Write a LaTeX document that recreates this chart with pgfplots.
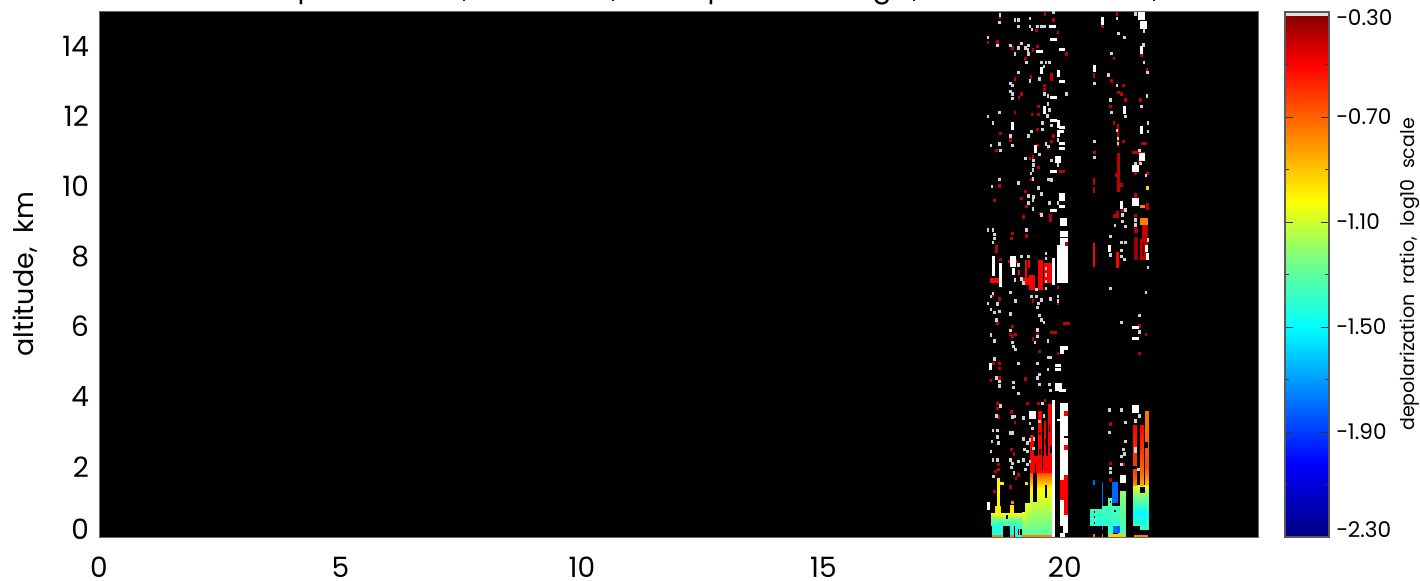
\documentclass[border=0pt]{standalone}
\usepackage{fontspec}
\setmainfont{Poppins}
\usepackage{pgfplots}
\pgfplotsset{compat=1.18}

\pgfplotsset{colormap={depol}{rgb255(0)=(0,0,128) rgb255(14)=(0,0,255) rgb255(40)=(0,255,255)
  rgb255(52)=(110,255,140) rgb255(64)=(255,255,0) rgb255(90)=(255,0,0) rgb255(100)=(128,0,0)}}

% speckle marks, the size of one or a few range gates
\pgfdeclareplotmark{cell}{\pgfpathrectangle{\pgfqpoint{-0.68pt}{-0.85pt}}{\pgfqpoint{1.36pt}{1.7pt}}\pgfusepathqfill}
\pgfdeclareplotmark{wide}{\pgfpathrectangle{\pgfqpoint{-1.7pt}{-0.75pt}}{\pgfqpoint{3.4pt}{1.5pt}}\pgfusepathqfill}
\pgfdeclareplotmark{tall}{\pgfpathrectangle{\pgfqpoint{-0.75pt}{-1.9pt}}{\pgfqpoint{1.5pt}{3.8pt}}\pgfusepathqfill}
\pgfdeclareplotmark{big}{\pgfpathrectangle{\pgfqpoint{-1.6pt}{-1.9pt}}{\pgfqpoint{3.2pt}{3.8pt}}\pgfusepathqfill}

\definecolor{spw}{gray}{0.82}
\definecolor{spr}{RGB}{190,0,0}
\definecolor{lowblue}{RGB}{0,100,255}

% #1 colour, x1 x2 y1 y2
\newcommand{\rect}[5]{\addplot[fill=#1,draw=none] coordinates {(#2,#4)(#3,#4)(#3,#5)(#2,#5)} --cycle;}
% x1 x2, y1 with value, y2 with value
\newcommand{\grad}[6]{\addplot[surf,shader=interp,mesh/rows=2,mesh/cols=2,point meta=explicit]
  coordinates {(#1,#3)[#4](#2,#3)[#4](#1,#5)[#6](#2,#5)[#6]};}

\begin{document}
\begin{tikzpicture}
\useasboundingbox (-49.5pt,-22pt) rectangle (660.5pt,268.5pt);

\begin{axis}[
  at={(0pt,0pt)}, anchor=south west,
  scale only axis, width=579.5pt, height=263pt,
  xmin=0, xmax=24, ymin=0, ymax=15,
  xtick={0,5,10,15,20}, ytick={0,2,...,14},
  yticklabels={\raisebox{8pt}{0},2,4,6,8,10,12,14},
  major tick length=0pt, minor tick length=0pt,
  tick style={draw=none},
  /pgf/number format/assume math mode=true,
  tick label style={font=\fontsize{14}{16}\selectfont},
  xticklabel style={inner ysep=0pt,text height=10pt,text depth=0pt,yshift=-10pt},
  yticklabel style={xshift=-1.5pt},
  ylabel={altitude,\ \ km},
  every axis y label/.style={at={(axis description cs:-0.064,0.5)},rotate=90,anchor=center,font=\fontsize{13.5}{15}\selectfont},
  axis background/.style={fill=black},
  axis line style={black!60},
  colormap name=depol, point meta min=-2.3, point meta max=-0.3,
  axis on top,
]
% cluster 1, body
\grad{19.28}{19.77}{1.40}{-1.0}{1.85}{-0.65}
\grad{19.28}{19.77}{0.80}{-1.15}{1.40}{-1.0}
\grad{19.28}{19.77}{0}{-1.32}{0.80}{-1.15}
\grad{19.18}{19.28}{0}{-1.32}{0.96}{-1.05}
\grad{19.11}{19.18}{0}{-1.35}{0.72}{-1.05}
\grad{18.47}{19.11}{0.50}{-1.25}{0.68}{-1.0}
\grad{18.47}{19.11}{0.32}{-1.42}{0.50}{-1.25}
\grad{18.49}{18.70}{0}{-1.45}{0.32}{-1.42}
\grad{18.87}{18.94}{0}{-1.45}{0.32}{-1.42}
\grad{18.97}{19.11}{0}{-1.45}{0.32}{-1.42}
\grad{18.87}{18.94}{0.68}{-1.0}{0.90}{-0.95}
\grad{18.56}{18.66}{0.68}{-1.0}{0.87}{-0.95}
\grad{18.59}{18.64}{0.82}{-1.05}{1.68}{-1.0}
\grad{18.64}{18.73}{1.49}{-1.0}{1.58}{-1.0}
\rect{black}{19.35}{19.42}{1.01}{1.86}
\rect{black}{19.59}{19.64}{1.11}{1.49}
\rect{black}{18.78}{18.82}{0.52}{0.62}
\rect{black}{19.02}{19.05}{0.05}{0.22}
\rect{black}{19.08}{19.11}{0.05}{0.22}
\rect{orange}{18.49}{18.70}{0}{0.07}
\rect{orange}{18.87}{18.94}{0}{0.07}
\rect{orange}{19.11}{19.77}{0}{0.07}
% red above it
\rect{red}{19.36}{19.73}{1.82}{2.30}
\rect{red}{19.28}{19.36}{1.82}{2.90}
\rect{red}{19.45}{19.52}{2.30}{3.60}
\rect{red}{19.56}{19.62}{2.30}{3.30}
\rect{red}{19.66}{19.73}{2.30}{3.80}
\rect{black}{19.38}{19.41}{1.82}{2.10}
\rect{black}{19.53}{19.55}{1.90}{2.40}
\rect{black}{19.70}{19.73}{2.40}{2.60}
\rect{black}{19.47}{19.50}{2.90}{3.00}
\rect{black}{19.47}{19.50}{2.35}{2.50}
\rect{black}{19.58}{19.60}{2.65}{2.80}
\rect{black}{19.68}{19.70}{3.00}{3.20}
\rect{black}{19.30}{19.33}{2.45}{2.55}
% white columns
\rect{white}{19.73}{19.80}{0}{3.91}
\rect{white}{19.90}{20.06}{0}{3.83}
\rect{red}{19.99}{20.06}{3.44}{3.58}
\rect{red}{19.99}{20.06}{2.49}{2.63}
\rect{red}{19.99}{20.06}{1.63}{1.77}
\rect{red}{19.90}{20.06}{1.06}{1.63}
\rect{red}{19.99}{20.06}{0.63}{1.06}
\rect{black}{19.99}{20.06}{2.82}{2.88}
\rect{black}{19.90}{19.97}{0.10}{0.30}
\rect{black}{20.00}{20.06}{0}{0.10}
\rect{white}{19.83}{19.90}{3.30}{3.36}
% cluster 2
\grad{20.52}{20.77}{0.32}{-1.42}{0.79}{-1.38}
\grad{20.77}{20.90}{0.32}{-1.42}{0.89}{-1.35}
\grad{20.90}{21.15}{0}{-1.42}{0.89}{-1.35}
\grad{20.90}{20.97}{0.89}{-1.35}{1.10}{-1.3}
\grad{21.15}{21.25}{0}{-1.38}{1.30}{-1.2}
\rect{lowblue}{20.97}{21.11}{0.96}{1.58}
\rect{lowblue}{20.77}{20.80}{0.89}{1.58}
\rect{lowblue}{20.59}{20.63}{1.49}{1.63}
\rect{lowblue}{20.76}{20.80}{0.20}{0.32}
\rect{lowblue}{21.00}{21.15}{0.12}{0.32}
\rect{black}{21.00}{21.11}{0.07}{0.12}
\rect{black}{20.60}{20.63}{0.68}{0.74}
\rect{black}{20.60}{20.63}{0.53}{0.59}
\rect{black}{20.60}{20.63}{0.37}{0.43}
\rect{black}{20.93}{20.96}{0.98}{1.04}
\rect{black!70!blue}{21.02}{21.05}{0.70}{0.78}
\rect{yellow!65!orange}{20.90}{21.25}{0}{0.08}
\rect{orange}{20.59}{20.63}{0}{0.08}
\rect{orange}{20.76}{20.80}{0}{0.08}
% cluster 3
\grad{21.42}{21.73}{1.15}{-1.25}{1.48}{-1.05}
\grad{21.42}{21.73}{0.67}{-1.5}{1.15}{-1.25}
\grad{21.42}{21.73}{0.34}{-1.4}{0.67}{-1.5}
\grad{21.56}{21.73}{0.20}{-1.4}{0.34}{-1.4}
\rect{black}{21.56}{21.66}{1.26}{1.43}
\grad{21.42}{21.49}{1.48}{-0.8}{1.75}{-0.65}
\grad{21.42}{21.49}{1.75}{-0.65}{3.20}{-0.5}
\grad{21.56}{21.63}{1.48}{-0.85}{1.80}{-0.72}
\grad{21.56}{21.63}{1.80}{-0.72}{3.20}{-0.5}
\grad{21.66}{21.73}{1.48}{-0.9}{2.00}{-0.65}
\grad{21.66}{21.73}{2.00}{-0.65}{3.60}{-0.75}
\rect{orange}{21.44}{21.73}{0}{0.07}
\rect{black}{21.66}{21.73}{2.55}{2.70}
\rect{black}{21.42}{21.49}{1.95}{2.02}
% mid level layer
\rect{white}{19.83}{20.06}{7.23}{8.33}
\rect{white}{19.90}{20.06}{8.33}{8.52}
\rect{white}{19.90}{20.06}{8.55}{8.74}
\rect{white}{19.90}{20.04}{8.87}{9.09}
\rect{white}{19.90}{20.06}{5.33}{5.45}
\rect{white}{19.90}{19.98}{5.21}{5.33}
\rect{red}{19.18}{19.21}{7.38}{7.90}
\rect{red}{19.25}{19.39}{7.05}{7.47}
\rect{red}{19.45}{19.54}{7.05}{7.90}
\rect{red}{19.56}{19.73}{7.23}{7.80}
\rect{red}{18.83}{19.00}{7.80}{7.90}
\rect{red}{19.04}{19.08}{7.47}{7.61}
\rect{red}{19.23}{19.27}{7.66}{7.90}
\rect{red}{18.45}{18.66}{7.23}{7.38}
\rect{red}{19.14}{19.28}{7.19}{7.38}
\rect{white}{18.49}{18.56}{7.43}{8.00}
\rect{white}{18.63}{18.70}{7.14}{7.80}
\rect{white}{18.87}{18.99}{7.71}{8.00}
\rect{white}{18.90}{18.97}{7.47}{7.66}
\rect{white}{19.73}{19.80}{7.19}{7.95}
\rect{red}{20.59}{20.63}{7.71}{8.37}
\rect{red}{21.06}{21.13}{7.66}{8.14}
\rect{spr!80!black}{21.43}{21.51}{7.90}{8.55}
\rect{spr}{21.43}{21.51}{8.66}{8.80}
\rect{spr}{21.59}{21.72}{8.50}{8.90}
\rect{spr}{21.56}{21.72}{7.90}{8.50}
\rect{spr!70!black}{21.60}{21.63}{8.00}{8.40}
\rect{orange}{21.56}{21.73}{8.90}{9.09}
\rect{orange}{21.56}{21.66}{9.38}{9.46}
\rect{spr}{21.07}{21.14}{9.85}{10.94}
\rect{spr}{21.08}{21.13}{11.13}{11.78}
\rect{spr}{20.59}{20.63}{10.04}{10.23}
\rect{spr}{20.59}{20.63}{9.80}{9.99}
\rect{spr}{20.59}{20.63}{13.08}{13.22}

% red speckles
\addplot[only marks,mark=cell,spr] table[row sep=\\] {
18.66 14.82\\ 19.59 14.91\\ 19.77 14.74\\ 19.86 14.38\\ 19.42 14.44\\ 18.61 14.12\\ 18.41 14.10\\ 18.92 13.95\\
19.34 13.89\\ 19.44 13.98\\ 20.03 13.77\\ 19.18 13.65\\ 18.97 13.06\\ 19.30 13.12\\ 19.58 12.87\\ 19.58 12.76\\
19.11 12.63\\ 19.05 12.53\\ 19.45 12.27\\ 18.97 12.10\\ 19.32 12.05\\ 19.45 12.05\\ 18.67 11.51\\ 19.44 11.62\\
19.77 11.44\\ 18.88 11.32\\ 19.72 11.27\\ 19.44 11.16\\ 19.65 11.08\\ 18.58 11.03\\ 19.34 10.84\\ 19.28 10.79\\
19.45 10.54\\ 19.30 10.20\\ 18.65 10.01\\ 19.18 9.85\\ 19.11 9.66\\ 20.78 14.55\\ 21.08 14.91\\ 20.97 13.00\\
21.21 12.87\\ 21.11 12.67\\ 21.18 12.63\\ 21.25 12.46\\ 20.95 12.27\\ 21.23 12.22\\ 21.02 13.65\\ 21.59 13.74\\
21.70 13.33\\ 21.02 11.80\\ 21.21 11.27\\ 20.61 10.96\\ 21.55 10.70\\ 21.47 10.37\\ 21.71 10.37\\ 21.57 12.46\\
21.18 10.04\\ 21.06 10.32\\ 18.54 9.59\\ 19.21 9.42\\ 19.14 9.12\\ 19.49 9.23\\ 18.92 8.66\\ 18.89 8.52\\
19.21 8.58\\ 18.51 8.39\\ 20.03 8.35\\ 18.67 7.92\\ 19.86 7.12\\ 18.64 6.79\\ 18.51 6.90\\ 19.34 6.73\\
19.86 6.66\\ 18.61 6.08\\ 18.91 6.00\\ 18.88 5.78\\ 18.92 5.71\\ 18.98 5.78\\ 19.44 5.76\\ 19.34 5.65\\
19.48 5.29\\ 19.86 5.24\\ 18.52 4.95\\ 18.65 4.95\\ 18.65 4.81\\ 18.65 4.53\\ 19.18 4.50\\ 21.03 9.15\\
21.20 9.33\\ 21.47 9.16\\ 21.55 6.02\\ 21.68 5.78\\ 21.55 5.24\\ 18.47 4.46\\ 18.61 3.80\\ 18.61 3.67\\
18.89 3.56\\ 18.63 3.42\\ 18.97 3.26\\ 19.23 3.80\\ 19.45 3.80\\ 19.59 3.89\\ 18.90 2.49\\ 18.95 2.37\\
18.63 2.06\\ 18.63 1.92\\ 18.56 1.87\\ 19.04 1.77\\ 18.99 1.66\\ 18.88 1.42\\ 18.54 1.30\\ 20.94 3.22\\
20.94 2.10\\ 20.94 1.63\\ 21.21 2.06\\
};
\addplot[only marks,mark=tall,spr] table[row sep=\\] {
19.72 13.11\\ 18.58 8.21\\ 19.71 9.09\\ 21.72 9.42\\ 21.10 9.20\\ 21.47 9.70\\
};
\addplot[only marks,mark=wide,spr] table[row sep=\\] {
19.94 10.43\\ 21.64 11.21\\ 21.47 10.97\\ 21.59 10.94\\ 20.03 6.08\\ 19.77 5.84\\
};
% white speckles
\addplot[only marks,mark=cell,spw] table[row sep=\\] {
18.66 14.88\\ 18.65 14.67\\ 18.97 14.74\\ 19.04 14.74\\ 19.28 14.79\\ 19.04 14.55\\ 19.28 14.55\\ 19.32 14.48\\
19.44 14.55\\ 19.51 14.55\\ 19.58 14.55\\ 19.77 14.96\\ 18.41 14.25\\ 18.61 14.01\\ 18.87 14.01\\ 19.04 13.95\\
19.11 14.07\\ 19.18 13.95\\ 19.25 14.01\\ 19.24 13.89\\ 19.25 13.77\\ 18.97 13.77\\ 19.21 13.53\\ 19.51 13.53\\
19.61 13.53\\ 19.68 13.53\\ 19.57 13.41\\ 19.04 13.24\\ 19.28 13.00\\ 19.48 13.06\\ 18.88 12.94\\ 18.92 12.87\\
18.88 12.70\\ 18.92 12.63\\ 18.92 12.51\\ 19.58 12.63\\ 19.65 12.57\\ 20.03 12.63\\ 19.65 12.35\\ 19.68 12.18\\
19.64 12.01\\ 18.65 12.10\\ 18.41 11.99\\ 18.51 11.80\\ 19.54 11.80\\ 19.72 11.74\\ 19.54 11.62\\ 19.31 11.56\\
19.25 11.44\\ 18.88 11.44\\ 19.86 11.32\\ 19.61 11.21\\ 19.66 11.13\\ 18.65 11.21\\ 18.47 11.16\\ 18.92 11.16\\
18.67 11.03\\ 19.48 10.91\\ 19.18 10.79\\ 19.35 10.73\\ 19.35 10.61\\ 19.72 10.73\\ 19.86 10.61\\ 19.34 10.47\\
19.30 10.37\\ 19.34 10.21\\ 19.66 10.20\\ 19.72 10.18\\ 18.65 10.20\\ 18.49 9.99\\ 19.04 10.09\\ 19.45 9.95\\
19.51 9.78\\ 19.25 9.72\\ 19.35 9.70\\ 20.61 12.94\\ 20.61 11.27\\ 20.61 10.82\\ 20.90 13.17\\ 20.97 13.79\\
21.08 14.79\\ 21.08 12.87\\ 20.95 12.46\\ 20.97 12.10\\ 21.25 11.99\\ 21.11 14.36\\ 21.23 14.25\\ 21.47 14.91\\
21.64 14.43\\ 21.63 14.03\\ 21.64 13.53\\ 21.71 13.24\\ 21.70 12.57\\ 21.58 12.27\\ 21.72 11.80\\ 21.72 11.56\\
21.55 11.03\\ 21.46 10.65\\ 21.56 10.65\\ 21.68 10.30\\ 21.08 11.60\\ 21.10 11.37\\ 21.10 11.22\\
19.25 9.53\\ 19.34 9.59\\ 19.68 9.53\\ 19.86 9.53\\ 19.34 9.35\\ 19.51 9.18\\ 18.41 8.76\\ 18.51 8.76\\
18.54 8.63\\ 18.54 8.52\\ 18.51 8.39\\ 19.21 8.76\\ 19.11 8.00\\ 19.25 8.00\\ 19.04 7.76\\ 19.61 8.09\\
19.61 7.95\\ 19.61 7.66\\ 19.61 7.47\\ 19.61 7.28\\ 19.11 7.36\\ 19.14 7.24\\ 18.97 7.33\\ 19.41 7.06\\
19.61 7.09\\ 18.88 6.97\\ 18.51 6.95\\ 18.47 6.85\\ 18.61 6.64\\ 18.41 6.66\\ 18.47 6.49\\ 18.54 6.40\\
18.65 6.43\\ 18.58 6.19\\ 18.88 6.36\\ 18.98 6.73\\ 19.31 6.85\\ 19.41 6.85\\ 19.51 6.76\\ 19.45 6.66\\
19.44 6.54\\ 19.71 6.79\\ 19.86 6.85\\ 19.86 6.73\\ 19.48 6.31\\ 19.51 6.19\\ 19.57 6.12\\ 19.44 5.90\\
19.44 5.71\\ 18.88 5.89\\ 18.47 5.76\\ 18.54 5.59\\ 18.91 5.54\\ 18.94 5.43\\ 18.98 5.35\\ 19.38 5.54\\
19.65 5.59\\ 19.65 5.12\\ 19.71 5.12\\ 18.54 5.07\\ 19.04 4.94\\ 19.44 4.94\\ 19.65 4.77\\ 19.48 4.64\\
19.44 4.53\\ 18.58 4.53\\ 21.25 9.33\\ 21.20 9.18\\ 21.47 9.04\\ 21.47 8.90\\ 21.04 8.88\\ 21.20 9.00\\
21.25 8.85\\ 20.94 8.57\\ 20.95 8.04\\ 21.18 8.40\\ 21.25 8.40\\ 21.18 8.17\\ 21.18 8.00\\ 21.23 7.92\\
21.72 8.47\\ 21.72 7.68\\ 20.95 7.09\\ 21.68 6.97\\ 21.55 6.31\\ 21.18 6.12\\ 21.55 5.84\\
18.65 4.43\\ 18.65 4.31\\ 18.94 4.40\\ 18.94 4.27\\ 19.04 4.10\\ 19.47 4.34\\ 19.68 4.34\\ 19.71 4.17\\
18.58 3.45\\ 18.67 3.74\\ 18.92 3.42\\ 18.97 3.44\\ 19.14 3.39\\ 19.54 3.80\\ 19.57 3.45\\ 19.48 3.29\\
19.28 3.24\\ 19.33 3.10\\ 18.51 3.03\\ 18.61 3.03\\ 18.88 2.96\\ 18.92 2.96\\ 18.61 2.85\\ 18.49 2.72\\
18.63 2.68\\ 18.47 2.44\\ 18.51 2.20\\ 18.61 2.20\\ 18.88 2.20\\ 18.92 2.09\\ 18.90 1.99\\ 18.95 1.82\\
19.04 2.15\\ 19.14 2.79\\ 19.16 2.49\\ 19.23 2.68\\ 19.28 2.77\\ 19.36 2.79\\ 19.35 2.53\\ 19.23 2.44\\
19.14 2.20\\ 19.18 1.92\\ 19.23 2.06\\ 19.28 2.15\\ 18.52 1.72\\ 20.92 3.62\\ 21.18 3.62\\ 21.25 3.26\\
20.92 2.98\\ 21.25 2.72\\ 21.21 2.49\\ 21.24 2.37\\ 21.18 2.30\\ 20.94 1.96\\ 20.94 1.84\\ 21.18 2.06\\
21.54 3.45\\ 21.47 3.31\\ 21.47 2.53\\ 21.47 2.44\\ 21.53 1.93\\
};
\addplot[only marks,mark=tall,white] table[row sep=\\] {
19.51 13.30\\ 19.57 12.18\\ 18.92 11.72\\ 19.86 11.78\\ 19.86 11.51\\ 19.39 11.06\\ 20.61 13.36\\ 20.78 14.71\\
21.24 12.18\\ 21.58 13.89\\ 21.58 11.60\\ 18.47 4.86\\ 21.18 9.47\\ 20.92 8.23\\ 21.70 8.23\\ 21.72 8.00\\ 18.41 0.89\\
19.86 13.22\\
};
\addplot[only marks,mark=wide,white] table[row sep=\\] {
19.74 14.55\\ 19.77 14.20\\ 19.48 13.84\\ 19.94 13.89\\ 19.94 13.00\\ 19.77 12.53\\ 19.77 11.87\\ 19.94 11.69\\
19.92 11.57\\ 19.94 11.21\\ 19.94 11.08\\ 19.77 10.43\\ 19.94 9.42\\ 19.77 9.31\\ 19.86 4.89\\ 19.86 4.77\\
19.95 4.17\\ 21.46 5.96\\ 21.46 5.65\\
};
\addplot[only marks,mark=big,white] table[row sep=\\] {
19.86 10.77\\ 19.94 9.69\\ 21.59 14.86\\ 21.63 14.60\\ 21.60 10.84\\ 21.46 10.51\\ 21.46 9.56\\
19.87 4.27\\ 19.33 3.48\\ 21.21 1.65\\ 21.46 3.65\\
};
\addplot[only marks,mark=cell,yellow!80!orange] table[row sep=\\] {
21.71 9.95\\ 19.21 1.53\\
};
\addplot[only marks,mark=cell,orange] table[row sep=\\] {
18.91 0.98\\
};
\end{axis}

\begin{axis}[
  at={(593pt,0pt)}, anchor=south west,
  scale only axis, width=22pt, height=262.5pt,
  xmin=0, xmax=1, ymin=-2.3, ymax=-0.3,
  xtick=\empty,
  ytick={-2.3,-1.9,-1.5,-1.1,-0.7,-0.3},
  minor ytick={-2.1,-1.7,-1.3,-0.9,-0.5},
  yticklabels={\raisebox{7pt}{−2.30},−1.90,−1.50,−1.10,−0.70,\raisebox{-6.6pt}[0pt][0pt]{−0.30}},
  yticklabel pos=right,
  ytick pos=both,
  tick align=inside,
  major tick length=4pt, minor tick length=2pt,
  tick style={black!80},
  tick label style={font=\fontsize{10.8}{12}\selectfont},
  ylabel={depolarization\ \ ratio,\ \ log10\ \ scale},
  every axis y label/.style={at={(axis description cs:2.84,0.5)},rotate=90,anchor=center,font=\fontsize{9.5}{11}\selectfont},
  colormap name=depol, point meta min=-2.3, point meta max=-0.3,
  axis line style={black!65,line width=0.7pt},
  axis on top,
]
\addplot[surf,shader=interp,mesh/rows=2,mesh/cols=2,point meta=explicit]
  coordinates {(0,-2.3)[-2.3](1,-2.3)[-2.3](0,-0.3)[-0.3](1,-0.3)[-0.3]};
\rect{white!75!gray}{0}{1}{-0.315}{-0.305}
\end{axis}

% what the page leaves of the title, cut off at the top edge
\begin{scope}[every node/.style={anchor=base,inner sep=0pt,font=\fontsize{14}{16}\selectfont}]
\node at (104pt,269.5pt) {p};
\node at (183.5pt,269.5pt) {,};
\node at (258pt,269.5pt) {,};
\node at (309pt,269.5pt) {p};
\node at (391.5pt,269.5pt) {g};
\node at (408.5pt,269.5pt) {,};
\node at (528.5pt,269.5pt) {,};
\end{scope}
\end{tikzpicture}
\end{document}
